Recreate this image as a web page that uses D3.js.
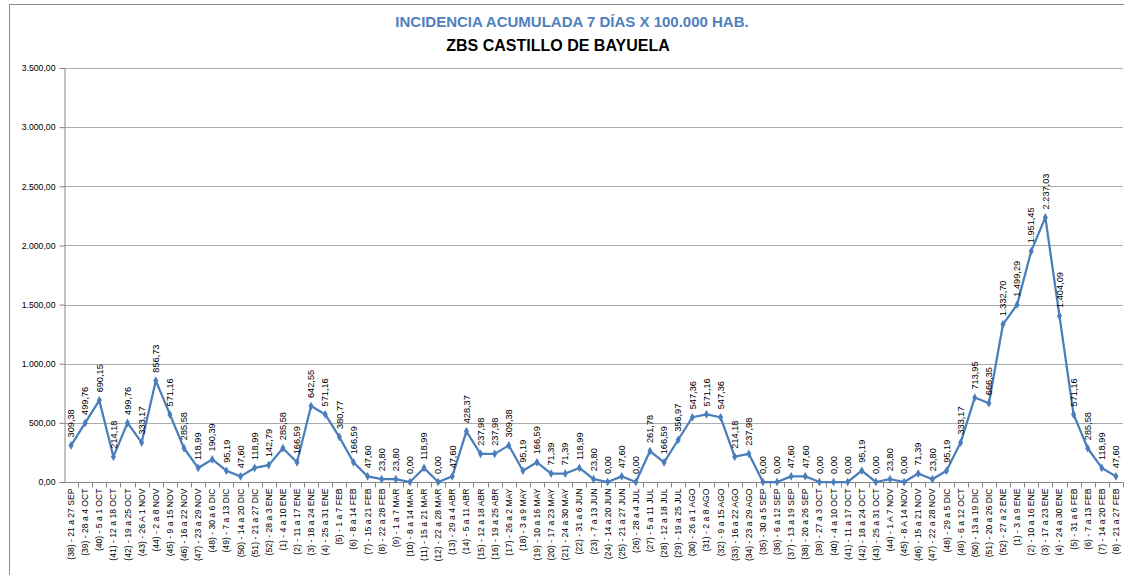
<!DOCTYPE html>
<html>
<head>
<meta charset="utf-8">
<script src="https://cdn.jsdelivr.net/npm/d3@7"></script>
<style>
  body { margin: 0; background: #fff; }
  svg text { font-family: "Liberation Sans", Arial, sans-serif; }
</style>
</head>
<body>
<div id="chart"></div>
<script>
var categories = [
  "(38) - 21 a 27 SEP", "(39) - 28 a 4 OCT", "(40) - 5 a 1 OCT", "(41) - 12 a 18 OCT", "(42) - 19 a 25 OCT",
  "(43) - 26 A 1 NOV", "(44) - 2 a 8 NOV", "(45) - 9 a 15 NOV", "(46) - 16 a 22 NOV", "(47) - 23 a 29 NOV",
  "(48) - 30 a 6 DIC", "(49) - 7 a 13 DIC", "(50) - 14 a 20 DIC", "(51) - 21 a 27 DIC", "(52) - 28 a 3 ENE",
  "(1) - 4 a 10 ENE", "(2) - 11 a 17 ENE", "(3) - 18 a 24 ENE", "(4) - 25 a 31 ENE", "(5) - 1 a 7 FEB",
  "(6) - 8 a 14 FEB", "(7) - 15 a 21 FEB", "(8) - 22 a 28 FEB", "(9) - 1 a 7 MAR", "(10) - 8 a 14 MAR",
  "(11) - 15 a 21 MAR", "(12) - 22 a 28 MAR", "(13) - 29 a 4 ABR", "(14) - 5 a 11 ABR", "(15) - 12 a 18 ABR",
  "(16) - 19 a 25 ABR", "(17) - 26 a 2 MAY", "(18) - 3 a 9 MAY", "(19) - 10 a 16 MAY", "(20) - 17 a 23 MAY",
  "(21) - 24 a 30 MAY", "(22) - 31 a 6 JUN", "(23) - 7 a 13 JUN", "(24) - 14 a 20 JUN", "(25) - 21 a 27 JUN",
  "(26) - 28 a 4 JUL", "(27) - 5 a 11 JUL", "(28) - 12 a 18 JUL", "(29) - 19 a 25 JUL", "(30) - 26 a 1 AGO",
  "(31) - 2 a 8 AGO", "(32) - 9 a 15 AGO", "(33) - 16 a 22 AGO", "(34) - 23 a 29 AGO", "(35) - 30 a 5 SEP",
  "(36) - 6 a 12 SEP", "(37) - 13 a 19 SEP", "(38) - 20 a 26 SEP", "(39) - 27 a 3 OCT", "(40) - 4 a 10 OCT",
  "(41) - 11 a 17 OCT", "(42) - 18 a 24 OCT", "(43) - 25 a 31 OCT", "(44) - 1 A 7 NOV", "(45) - 8 A 14 NOV",
  "(46) - 15 a 21 NOV", "(47) - 22 a 28 NOV", "(48) - 29 a 5 DIC", "(49) - 6 a 12 OCT", "(50) - 13 a 19 DIC",
  "(51) - 20 a 26 DIC", "(52) - 27 a 2 ENE", "(1) - 3 a 9 ENE", "(2) - 10 a 16 ENE", "(3) - 17 a 23 ENE",
  "(4) - 24 a 30 ENE", "(5) - 31 a 6 FEB", "(6) - 7 a 13 FEB", "(7) - 14 a 20 FEB", "(8) - 21 a 27 FEB"
];

var incidence = [
  309.38, 499.76, 690.15, 214.18, 499.76,
  333.17, 856.73, 571.16, 285.58, 118.99,
  190.39, 95.19, 47.60, 118.99, 142.79,
  285.58, 166.59, 642.55, 571.16, 380.77,
  166.59, 47.60, 23.80, 23.80, 0.00,
  118.99, 0.00, 47.60, 428.37, 237.98,
  237.98, 309.38, 95.19, 166.59, 71.39,
  71.39, 118.99, 23.80, 0.00, 47.60,
  0.00, 261.78, 166.59, 356.97, 547.36,
  571.16, 547.36, 214.18, 237.98, 0.00,
  0.00, 47.60, 47.60, 0.00, 0.00,
  0.00, 95.19, 0.00, 23.80, 0.00,
  71.39, 23.80, 95.19, 333.17, 713.95,
  666.35, 1332.70, 1499.29, 1951.45, 2237.03,
  1404.09, 571.16, 285.58, 118.99, 47.60
];

var yTicks = [0, 500, 1000, 1500, 2000, 2500, 3000, 3500];

var title = "INCIDENCIA ACUMULADA 7 DÍAS X 100.000 HAB.",
    subtitle = "ZBS CASTILLO DE BAYUELA";

var esLocale = d3.formatLocale({decimal: ",", thousands: ".", grouping: [3], currency: ["", " €"]}),
    fmt = esLocale.format(",.2f");

var width = 1124,
    height = 575,
    margin = {top: 68, right: 1, bottom: 93, left: 64},
    lineColor = "#4a7ebb";

var svg = d3.select("#chart").append("svg")
    .attr("width", width)
    .attr("height", height);

// outer chart border
svg.append("rect")
    .attr("x", 9.5).attr("y", 4.5)
    .attr("width", width + 20).attr("height", height + 20)
    .attr("fill", "none")
    .attr("stroke", "#8c8c8c")
    .attr("stroke-width", 1);

var xScale = d3.scaleBand()
    .domain(categories)
    .range([margin.left, width - margin.right]);

var yScale = d3.scaleLinear()
    .domain([0, 3500])
    .range([height - margin.bottom, margin.top]);

// titles
svg.append("text")
    .attr("x", 572).attr("y", 27)
    .attr("text-anchor", "middle")
    .style("font-size", "15px").style("font-weight", "bold")
    .style("fill", "#4f81bd")
    .text(title);

svg.append("text")
    .attr("x", 558).attr("y", 51)
    .attr("text-anchor", "middle")
    .style("font-size", "16px").style("font-weight", "bold")
    .style("fill", "#000")
    .text(subtitle);

// gridlines
svg.append("g")
    .attr("class", "grid")
    .selectAll("line")
    .data(yTicks.filter(d => d > 0))
    .enter().append("line")
    .attr("x1", margin.left).attr("x2", width - margin.right)
    .attr("y1", d => Math.round(yScale(d)) + 0.5)
    .attr("y2", d => Math.round(yScale(d)) + 0.5)
    .attr("stroke", "#ababab")
    .attr("stroke-width", 1);

// y axis
var yAxis = d3.axisLeft(yScale)
    .tickValues(yTicks)
    .tickSize(5)
    .tickPadding(4)
    .tickFormat(fmt);

var gy = svg.append("g")
    .attr("class", "axis axis--y")
    .attr("transform", "translate(" + (margin.left + 0.5) + ",0)")
    .call(yAxis);
gy.select(".domain").attr("stroke", "#868686");
gy.selectAll(".tick line").attr("stroke", "#868686");
gy.selectAll(".tick text")
    .style("font-size", "8.7px")
    .style("fill", "#000")
    .style("font-family", "'Liberation Sans', Arial, sans-serif");

// x axis (category boundaries get the tick marks, like Excel)
var baseY = Math.round(yScale(0)) + 0.5;
var gx = svg.append("g").attr("class", "axis axis--x");

gx.append("line")
    .attr("x1", margin.left).attr("x2", width - margin.right)
    .attr("y1", baseY).attr("y2", baseY)
    .attr("stroke", "#868686");

gx.selectAll(".xtick")
    .data(categories)
    .enter().append("line")
    .attr("class", "xtick")
    .attr("x1", d => Math.round(xScale(d) + xScale.bandwidth()) + 0.5)
    .attr("x2", d => Math.round(xScale(d) + xScale.bandwidth()) + 0.5)
    .attr("y1", baseY).attr("y2", baseY + 5)
    .attr("stroke", "#868686");

gx.selectAll(".xlabel")
    .data(categories)
    .enter().append("text")
    .attr("class", "xlabel")
    .attr("transform", d => "translate(" + (xScale(d) + xScale.bandwidth() / 2) + "," + (baseY + 6) + ") rotate(-90)")
    .attr("text-anchor", "end")
    .attr("dy", "0.35em")
    .style("font-size", "8.6px")
    .style("fill", "#000")
    .text(d => d);

// series line
var points = categories.map((c, i) => ({cat: c, value: incidence[i]}));

var line = d3.line()
    .x(d => xScale(d.cat) + xScale.bandwidth() / 2)
    .y(d => yScale(d.value));

svg.append("path")
    .datum(points)
    .attr("fill", "none")
    .attr("stroke", lineColor)
    .attr("stroke-width", 2.25)
    .attr("stroke-linejoin", "round")
    .attr("d", line);

svg.selectAll(".marker")
    .data(points)
    .enter().append("path")
    .attr("class", "marker")
    .attr("transform", d => "translate(" + (xScale(d.cat) + xScale.bandwidth() / 2) + "," + yScale(d.value) + ")")
    .attr("d", d3.symbol().type(d3.symbolDiamond).size(22))
    .attr("fill", lineColor);

// data labels
svg.selectAll(".dlabel")
    .data(points)
    .enter().append("text")
    .attr("class", "dlabel")
    .attr("transform", d => "translate(" + (xScale(d.cat) + xScale.bandwidth() / 2) + "," + (yScale(d.value) - 8) + ") rotate(-90)")
    .attr("text-anchor", "start")
    .attr("dy", "0.35em")
    .style("font-size", "9.2px")
    .style("fill", "#000")
    .text(d => fmt(d.value));
</script>
</body>
</html>
